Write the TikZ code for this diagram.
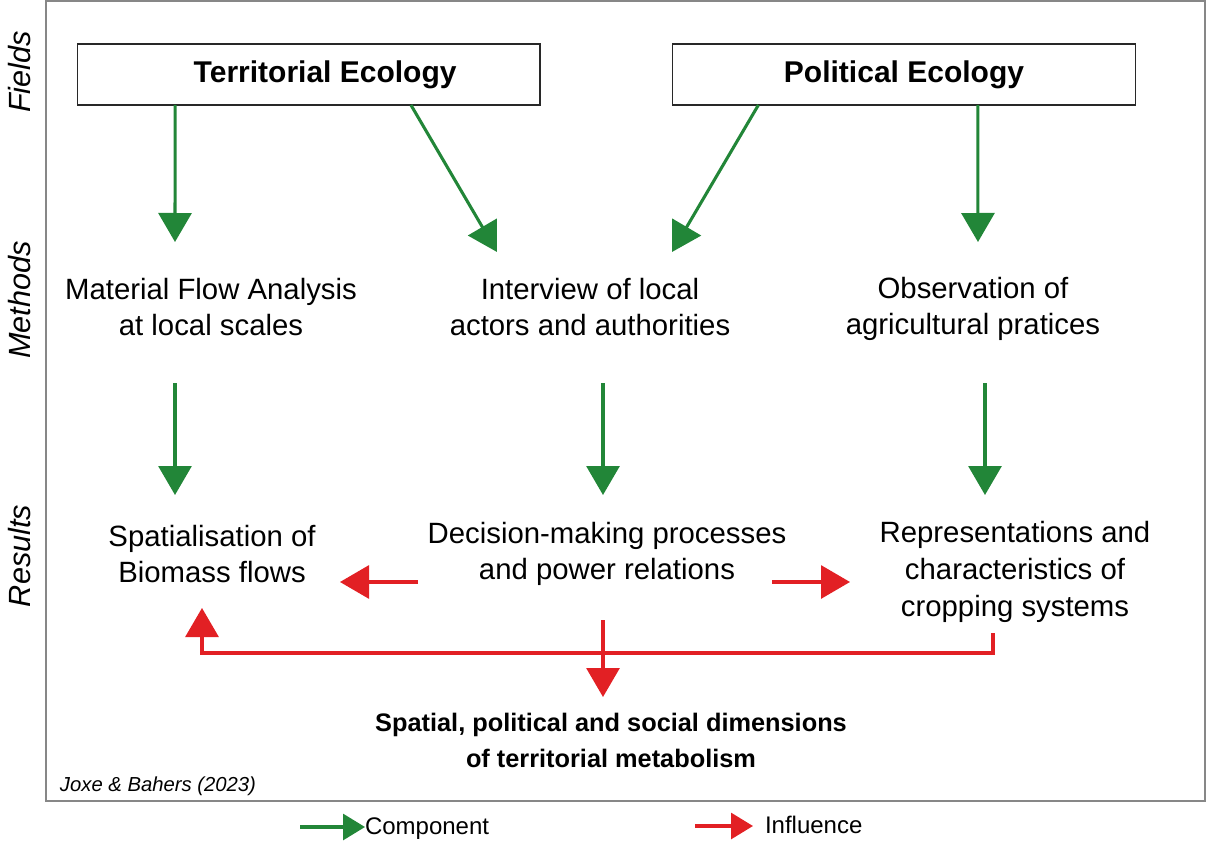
\documentclass[tikz,border=0pt]{standalone}
\usepackage{fontspec}
\setmainfont{Liberation Sans}
\usetikzlibrary{positioning, arrows.meta, calc}
\definecolor{compgreen}{RGB}{34, 134, 56}
\definecolor{inflred}{RGB}{226, 32, 36}
\definecolor{framegray}{RGB}{135, 135, 135}
\definecolor{boxline}{RGB}{40, 40, 40}

\begin{document}
\begin{tikzpicture}[
  x=0.75pt, y=-0.75pt,
  every node/.style={inner sep=0pt, outer sep=0pt},
  field/.style={
    draw=boxline, line width=1pt, fill=white,
    minimum width=347pt, minimum height=45.75pt,
    font=\fontsize{22.5}{27}\selectfont\bfseries,
  },
  lbl/.style={font=\fontsize{22}{27.5}\selectfont, align=center},
  side/.style={font=\fontsize{23}{27}\selectfont\itshape, rotate=90},
  comp/.style={-{Triangle[length=21.75pt, width=24.75pt]}, compgreen, line width=2.3pt},
  infl/.style={-{Triangle[length=21.75pt, width=24.75pt]}, inflred, line width=2.3pt},
  legcomp/.style={-{Triangle[length=16.5pt, width=19.5pt]}, compgreen, line width=2.3pt},
  leginfl/.style={-{Triangle[length=16.5pt, width=19.5pt]}, inflred, line width=2.3pt},
]
\useasboundingbox (0,0) rectangle (1208,842);

% Frame
\draw[framegray, line width=1pt] (46,1) rectangle (1205,801);

% Rows
\node[side] (fields) at (20,72) {Fields};
\node[side] (methods) at (20,300) {Methods};
\node[side] (results) at (20,556) {Results};

% Fields
\node[field] (te) at (308.5,74.5) {\hspace*{25pt}Territorial Ecology};
\node[field] (pe) at (904,74.5) {Political Ecology};

% Methods
\node[lbl] (mfa) at (211,307) {Material Flow Analysis\\at local scales};
\node[lbl] (itv) at (590,307) {Interview of local\\actors and authorities};
\node[lbl] (obs) at (973,309) {Observation of\\agricultural pratices};

% Results
\node[lbl] (spa) at (212,554) {Spatialisation of\\Biomass flows};
\node[lbl] (dec) at (607,554) {Decision-making processes\\and power relations};
\node[lbl] (rep) at (1015,572) {Representations and\\characteristics of\\cropping systems};
\node[lbl, font=\fontsize{19}{27}\selectfont\bfseries] (dims) at (611,740)
  {Spatial, political and social dimensions\\of territorial metabolism};

\node[anchor=west, font=\fontsize{15.2}{18}\selectfont\itshape] (src) at (60,786) {Joxe \& Bahers (2023)};

% Fields -> methods
\coordinate (m1) at (175,242);
\coordinate (m2) at (497,252);
\coordinate (m3) at (672,252);
\coordinate (m4) at (978,242);
\draw[comp] ($(te.south west)!0.2117!(te.south east)$) -- (m1);
\draw[comp] ($(te.south west)!0.7214!(te.south east)$) -- (m2);
\draw[comp] ($(pe.south west)!0.1853!(pe.south east)$) -- (m3);
\draw[comp] ($(pe.south west)!0.6595!(pe.south east)$) -- (m4);

% Methods -> results
\foreach \i/\x in {1/175, 2/603, 3/985}{
  \coordinate (up\i) at (\x,383);
  \coordinate (dn\i) at (\x,495);
  \draw[comp] (up\i) -- (dn\i);
}

% Influences
\coordinate (dls) at (418,582);
\coordinate (dl) at (340,582);
\coordinate (drs) at (772,582);
\coordinate (dr) at (850,582);
\draw[infl] (dls) -- (dl);
\draw[infl] (drs) -- (dr);

\coordinate (rb) at (993,633);
\coordinate (jn) at (603,653);
\coordinate (sb) at (202,608);
\draw[infl] (rb) |- (jn) -| (sb);

\coordinate (ds) at (603,620);
\coordinate (dt) at (603,697);
\draw[infl] (ds) -- (dt);

% Legend
\coordinate (lg1) at (300,827);
\coordinate (lg2) at (695,826);
\node[anchor=west, font=\fontsize{18}{22}\selectfont] (lcomp) at (365,829) {Component};
\node[anchor=west, font=\fontsize{18}{22}\selectfont] (linfl) at (765,825) {Influence};
\draw[legcomp] (lg1) -- (lg1 -| lcomp.west);
\draw[leginfl] (lg2) -- ($(lg2 -| linfl.west)+(-12,0)$);

\end{tikzpicture}
\end{document}
